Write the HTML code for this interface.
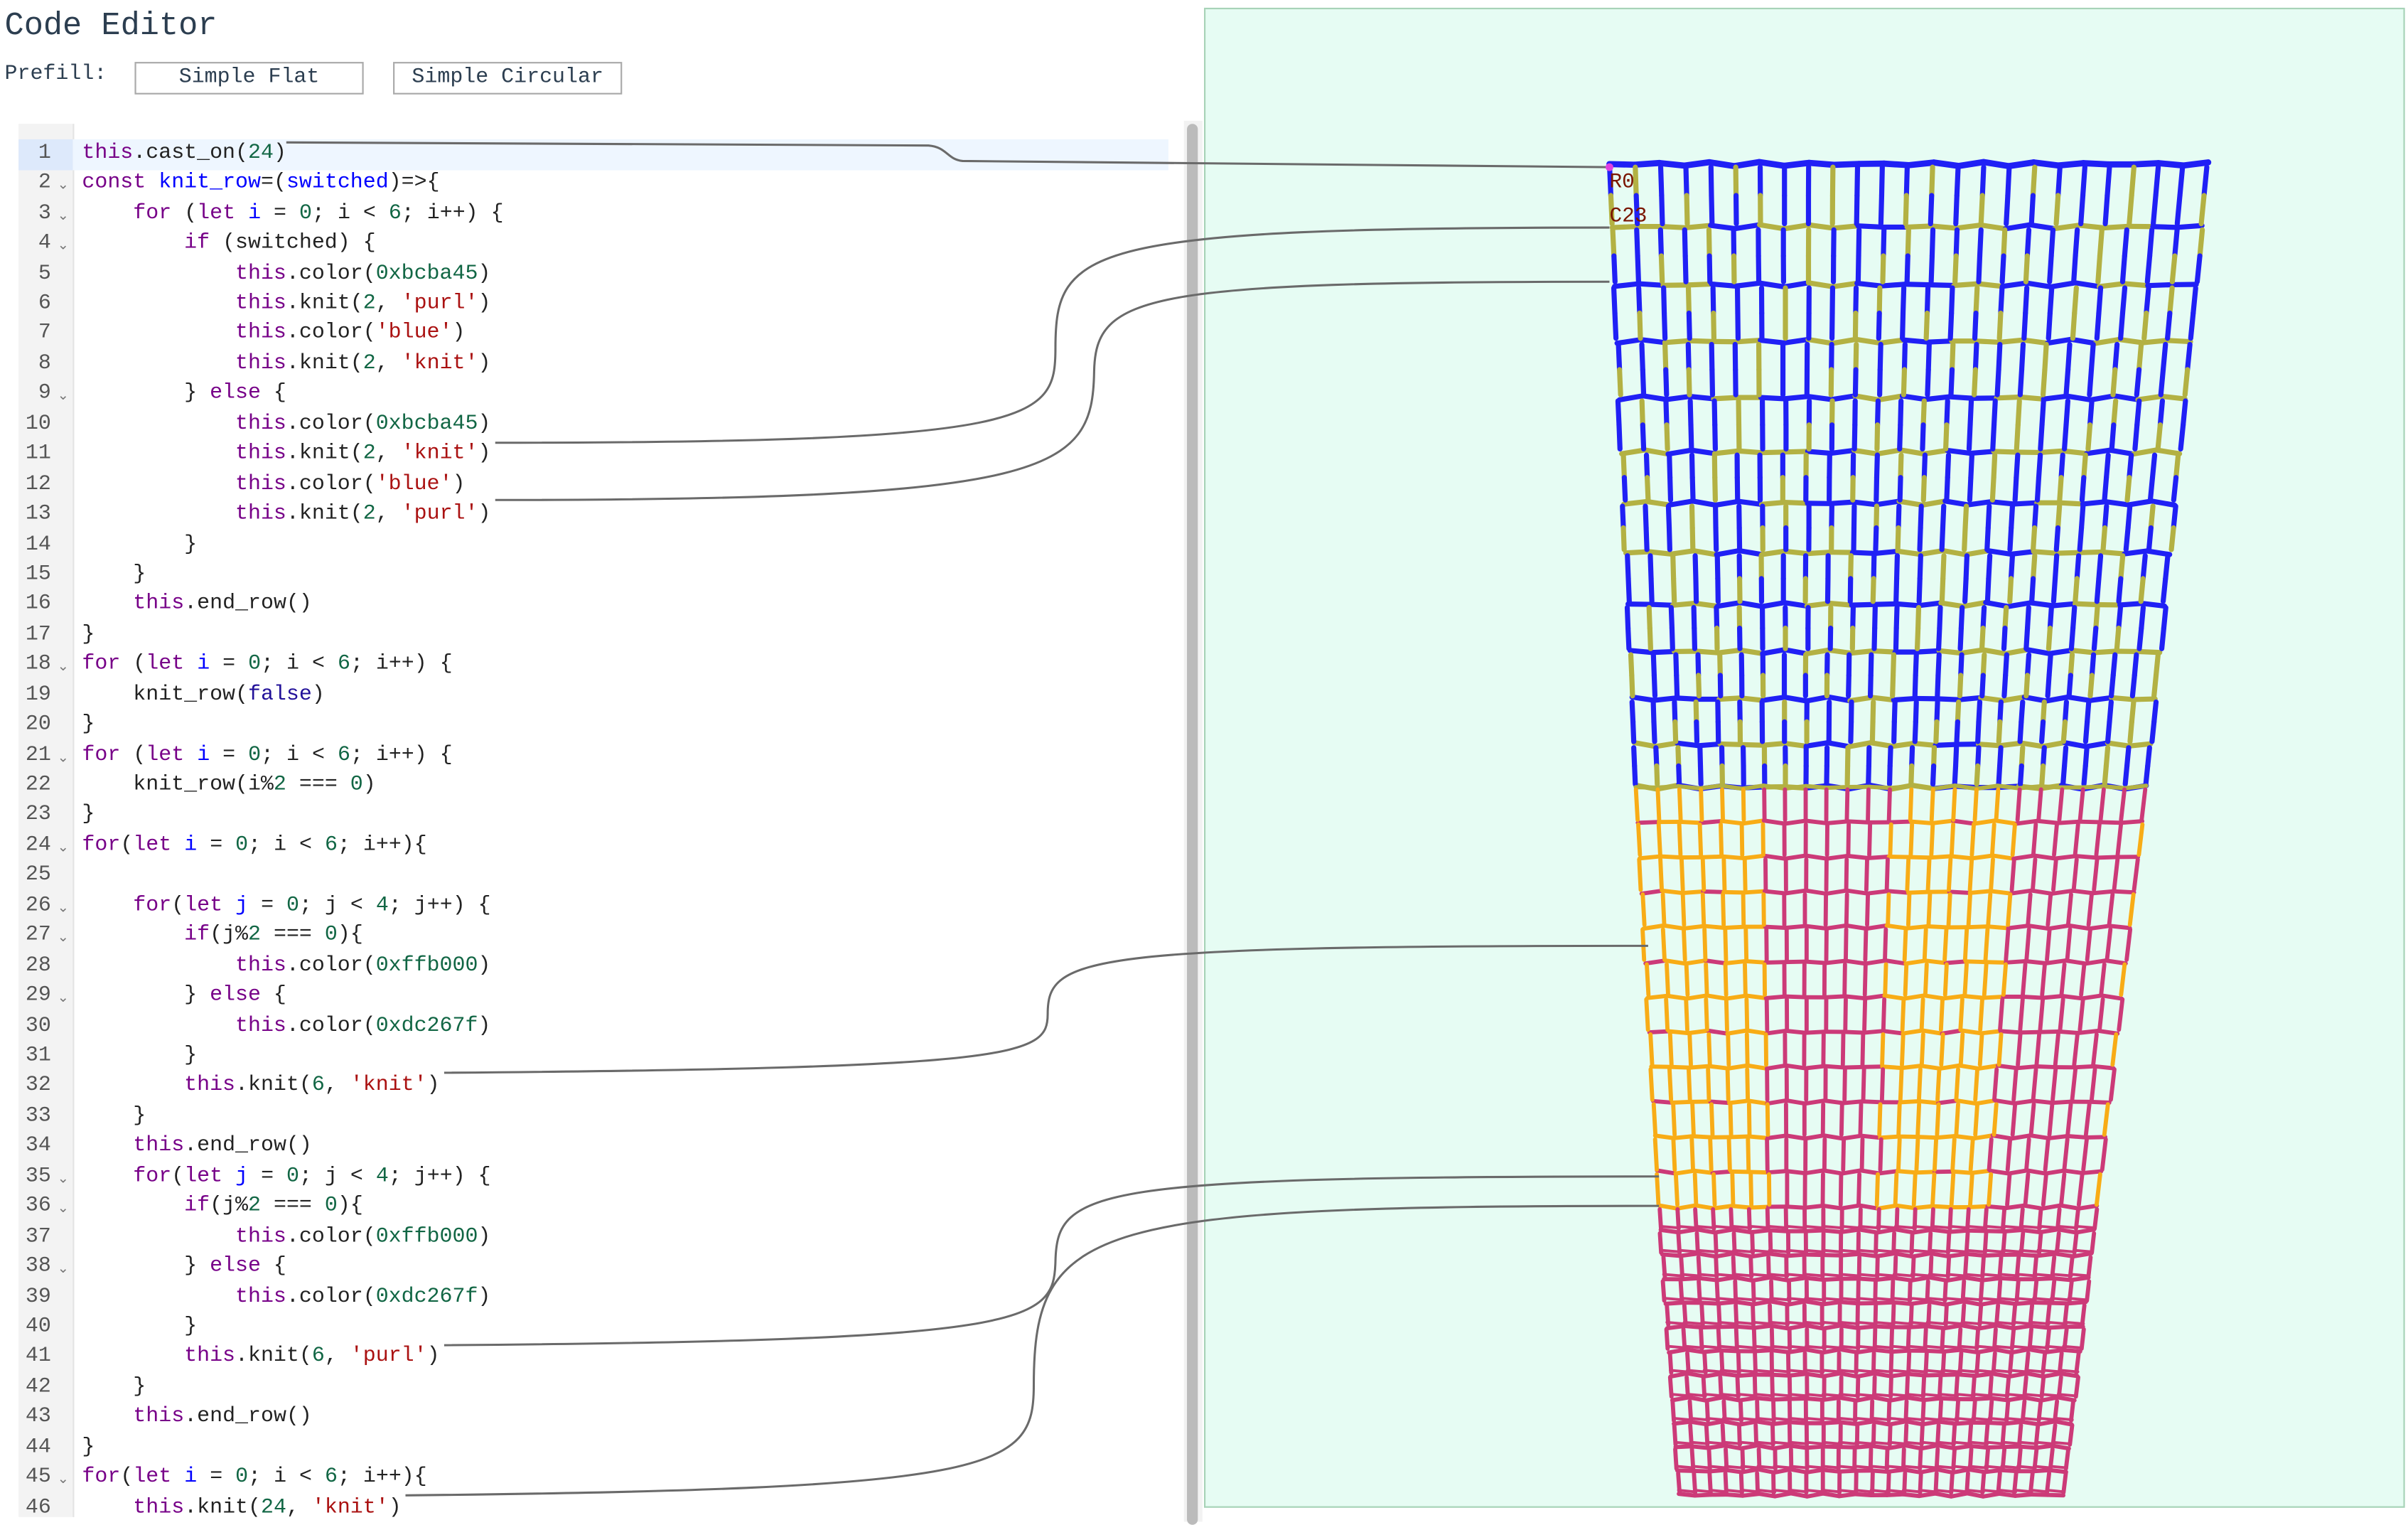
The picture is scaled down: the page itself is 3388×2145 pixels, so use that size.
<!DOCTYPE html>
<html><head><meta charset="utf-8">
<style>
html,body{margin:0;padding:0;background:#fff;width:3388px;height:2130px;overflow:hidden}
#root{position:absolute;left:0;top:0;width:1556px;height:978.2px;transform:scale(2.17738);transform-origin:0 0;font-family:"Liberation Mono",monospace}
.title{position:absolute;left:3px;top:6px;font-size:20.8px;color:#2c3e50}
.pf{position:absolute;left:3px;top:41px;font-size:13.75px;color:#2c3e50}
.btn{position:absolute;top:40px;height:19px;border:1px solid #aaa;font-size:13.75px;color:#2c3e50;text-align:center;line-height:19px;background:#fff}
.gut{position:absolute;left:12px;top:80px;width:35px;height:900px;background:#f3f3f3;border-right:1px solid #e4e4e4}
.act{position:absolute;left:47px;top:89.5px;width:708px;height:20px;background:#eef6ff}
.actg{position:absolute;left:12px;top:89.5px;width:35px;height:20px;background:#dde9fb}
.ln{position:absolute;left:12px;width:21px;text-align:right;font-size:13.75px;color:#555;height:19.44px;line-height:19.44px}
.fd{position:absolute;left:37px;font-size:9px;color:#777;height:19.44px;line-height:22px}
.cl{position:absolute;left:53px;font-size:13.75px;color:#222;white-space:pre;height:19.44px;line-height:19.44px}
.k{color:#708}.d{color:#00f}.n{color:#164}.s{color:#a11}.a{color:#219}
.sbt{position:absolute;left:765px;top:78px;width:12px;height:905px;background:#f2f2f2}
.sb{position:absolute;left:767px;top:80px;width:7px;height:905px;background:#bbb;border-radius:4px}
.panel{position:absolute;left:778px;top:5px;width:774px;height:967px;background:#e6fcf3;border:1px solid #a8d3b8}
.lab{position:absolute;font-size:13.5px;color:#7a1500}
svg{position:absolute;left:0;top:0}
</style></head><body>
<div id="root">
<div class="title">Code Editor</div>
<div class="pf">Prefill:</div>
<div class="btn" style="left:87px;width:146px">Simple Flat</div>
<div class="btn" style="left:254px;width:146px">Simple Circular</div>
<div class="gut"></div>
<div class="act"></div><div class="actg"></div>
<div id="code"></div>
<div class="sbt"></div><div class="sb"></div>
<div class="panel"></div>
<svg id="mesh" width="1556" height="978.2" viewBox="0 0 1556 978.2"></svg>
<div class="lab" style="left:1040px;top:111px">R0</div>
<div class="lab" style="left:1040px;top:133px">C23</div>
<svg width="1556" height="978.2" viewBox="0 0 1556 978.2" fill="none" stroke="#6a6a6a" stroke-width="1.4">
<path d="M185,92 L600,94 C612,95 612,103 622,104 L1040,108"/>
<path d="M320,286 C670,286 682,272 682,225 C682,160 700,147 1040,147"/>
<path d="M320,323 C680,323 706,305 707,240 C708,190 740,182 1040,182"/>
<path d="M287,693 C660,690 677,682 677,655 C677,618 700,611 1065,611"/>
<path d="M287,869 C665,866 681,855 682,815 C683,768 705,760 1072,760"/>
<path d="M262,966 C645,962 668,950 668,895 C668,790 705,779 1072,779"/>
<circle cx="1040" cy="108" r="2.5" fill="#e040e0" stroke="none"/>
</svg>
</div>
<script>
var L=[
'<span class="k">this</span>.cast_on(<span class="n">24</span>)',
'<span class="k">const</span> <span class="d">knit_row</span>=(<span class="d">switched</span>)=>{',
'    <span class="k">for</span> (<span class="k">let</span> <span class="d">i</span> = <span class="n">0</span>; i &lt; <span class="n">6</span>; i++) {',
'        <span class="k">if</span> (switched) {',
'            <span class="k">this</span>.color(<span class="n">0xbcba45</span>)',
'            <span class="k">this</span>.knit(<span class="n">2</span>, <span class="s">\'purl\'</span>)',
'            <span class="k">this</span>.color(<span class="s">\'blue\'</span>)',
'            <span class="k">this</span>.knit(<span class="n">2</span>, <span class="s">\'knit\'</span>)',
'        } <span class="k">else</span> {',
'            <span class="k">this</span>.color(<span class="n">0xbcba45</span>)',
'            <span class="k">this</span>.knit(<span class="n">2</span>, <span class="s">\'knit\'</span>)',
'            <span class="k">this</span>.color(<span class="s">\'blue\'</span>)',
'            <span class="k">this</span>.knit(<span class="n">2</span>, <span class="s">\'purl\'</span>)',
'        }',
'    }',
'    <span class="k">this</span>.end_row()',
'}',
'<span class="k">for</span> (<span class="k">let</span> <span class="d">i</span> = <span class="n">0</span>; i &lt; <span class="n">6</span>; i++) {',
'    knit_row(<span class="a">false</span>)',
'}',
'<span class="k">for</span> (<span class="k">let</span> <span class="d">i</span> = <span class="n">0</span>; i &lt; <span class="n">6</span>; i++) {',
'    knit_row(i%<span class="n">2</span> === <span class="n">0</span>)',
'}',
'<span class="k">for</span>(<span class="k">let</span> <span class="d">i</span> = <span class="n">0</span>; i &lt; <span class="n">6</span>; i++){',
'',
'    <span class="k">for</span>(<span class="k">let</span> <span class="d">j</span> = <span class="n">0</span>; j &lt; <span class="n">4</span>; j++) {',
'        <span class="k">if</span>(j%<span class="n">2</span> === <span class="n">0</span>){',
'            <span class="k">this</span>.color(<span class="n">0xffb000</span>)',
'        } <span class="k">else</span> {',
'            <span class="k">this</span>.color(<span class="n">0xdc267f</span>)',
'        }',
'        <span class="k">this</span>.knit(<span class="n">6</span>, <span class="s">\'knit\'</span>)',
'    }',
'    <span class="k">this</span>.end_row()',
'    <span class="k">for</span>(<span class="k">let</span> <span class="d">j</span> = <span class="n">0</span>; j &lt; <span class="n">4</span>; j++) {',
'        <span class="k">if</span>(j%<span class="n">2</span> === <span class="n">0</span>){',
'            <span class="k">this</span>.color(<span class="n">0xffb000</span>)',
'        } <span class="k">else</span> {',
'            <span class="k">this</span>.color(<span class="n">0xdc267f</span>)',
'        }',
'        <span class="k">this</span>.knit(<span class="n">6</span>, <span class="s">\'purl\'</span>)',
'    }',
'    <span class="k">this</span>.end_row()',
'}',
'<span class="k">for</span>(<span class="k">let</span> <span class="d">i</span> = <span class="n">0</span>; i &lt; <span class="n">6</span>; i++){',
'    <span class="k">this</span>.knit(<span class="n">24</span>, <span class="s">\'knit\'</span>)'];
var folds=[2,3,4,9,18,21,24,26,27,29,35,36,38,45];
var h='';
for(var i=0;i<L.length;i++){var t=89.8+i*19.44;
h+='<div class="ln" style="top:'+t+'px">'+(i+1)+'</div>';
if(folds.indexOf(i+1)>=0)h+='<div class="fd" style="top:'+t+'px">&#8964;</div>';
h+='<div class="cl" style="top:'+t+'px">'+L[i]+'</div>';}
document.getElementById('code').innerHTML=h;

function interp(p,y){for(var i=0;i<p.length-1;i++){if(y<=p[i+1][0]){var f=(y-p[i][0])/(p[i+1][0]-p[i][0]);return p[i][1]+f*(p[i+1][1]-p[i][1]);}}return p[p.length-1][1];}
var LE=[[105,1040],[508,1057],[780,1072],[968,1085]],RE=[[105,1427],[508,1387],[780,1355],[968,1333]];
var B='#2020f5',O='#b3b143',Y='#f8ac16',P='#cc3a78';
var topY=[106,146.5,184,220.5,257,292,325,357,390.5,421,451.5,481,508.5];
var botY=[508.5];for(var r=1;r<=12;r++)botY.push(508.5+r*22.6);for(var r=1;r<=12;r++)botY.push(779.7+r*15.5);
function X(y,c){var l=interp(LE,y),rr=interp(RE,y);return l+(rr-l)*c/24;}
var s='';
function seg(x1,y1,x2,y2,col,w){s+='<line x1="'+x1.toFixed(1)+'" y1="'+y1.toFixed(1)+'" x2="'+x2.toFixed(1)+'" y2="'+y2.toFixed(1)+'" stroke="'+col+'" stroke-width="'+w+'" stroke-linecap="round"/>';}
function jit(a,b){return Math.sin(a*12.9898+b*78.233)*1.3;}
for(var r=0;r<topY.length;r++){var y=topY[r];
 for(var c=0;c<24;c++){var col=(r===0)?B:((r%2===1)?(((c>>1)+r)%3===0?B:O):(((c>>1)+r)%3===0?O:B));
  seg(X(y,c),y+jit(r,c),X(y,c+1),y+jit(r,c+1),col,r===0?4:3.3);}}
for(var r=0;r<topY.length-1;r++){var y1=topY[r]+2,y2=topY[r+1]-2,ym=(y1+y2)/2;
 for(var c=0;c<=24;c++){var c1=((c+r)%4===1)?O:B,c2=((c+r)%3===0)?O:B;var dx=jit(c,r)*0.8;
  seg(X(y1,c)+dx,y1,X(ym,c)+dx,ym,c1,3.3);seg(X(ym,c)+dx,ym,X(y2,c)+dx,y2,c2,3.3);}}
for(var r=0;r<botY.length;r++){var y=botY[r];
 for(var c=0;c<24;c++){var g=Math.floor(c/6)%2;var col;
  if(r===0)col=O;else if(r<=12)col=(r%2===0)?(g===0?Y:P):P;else col=P;
  if(r>=1&&r<=12&&r%2===1&&g===0&&c%3!==0)col=Y;
  seg(X(y,c),y+jit(r,c)*0.8,X(y,c+1),y+jit(r,c+1)*0.8,col,2.7);
  if(r>12)seg(X(y-3,c),y-3,X(y-3,c+1),y-2,P,1.8);}}
for(var r=0;r<botY.length-1;r++){var y1=botY[r]+1.5,y2=botY[r+1]-1.5;
 for(var c=0;c<=24;c++){var g=Math.floor(Math.min(c,23)/6)%2;var col=(r<12)?(g===0?Y:P):P;
  if(r<12&&c%6===0&&c>0)col=((r%2)?Y:P);
  var dx=jit(c,r)*0.6;seg(X(y1,c)+dx,y1,X(y2,c)+dx,y2,col,2.7);}}
document.getElementById('mesh').innerHTML=s;
</script>
</body></html>
